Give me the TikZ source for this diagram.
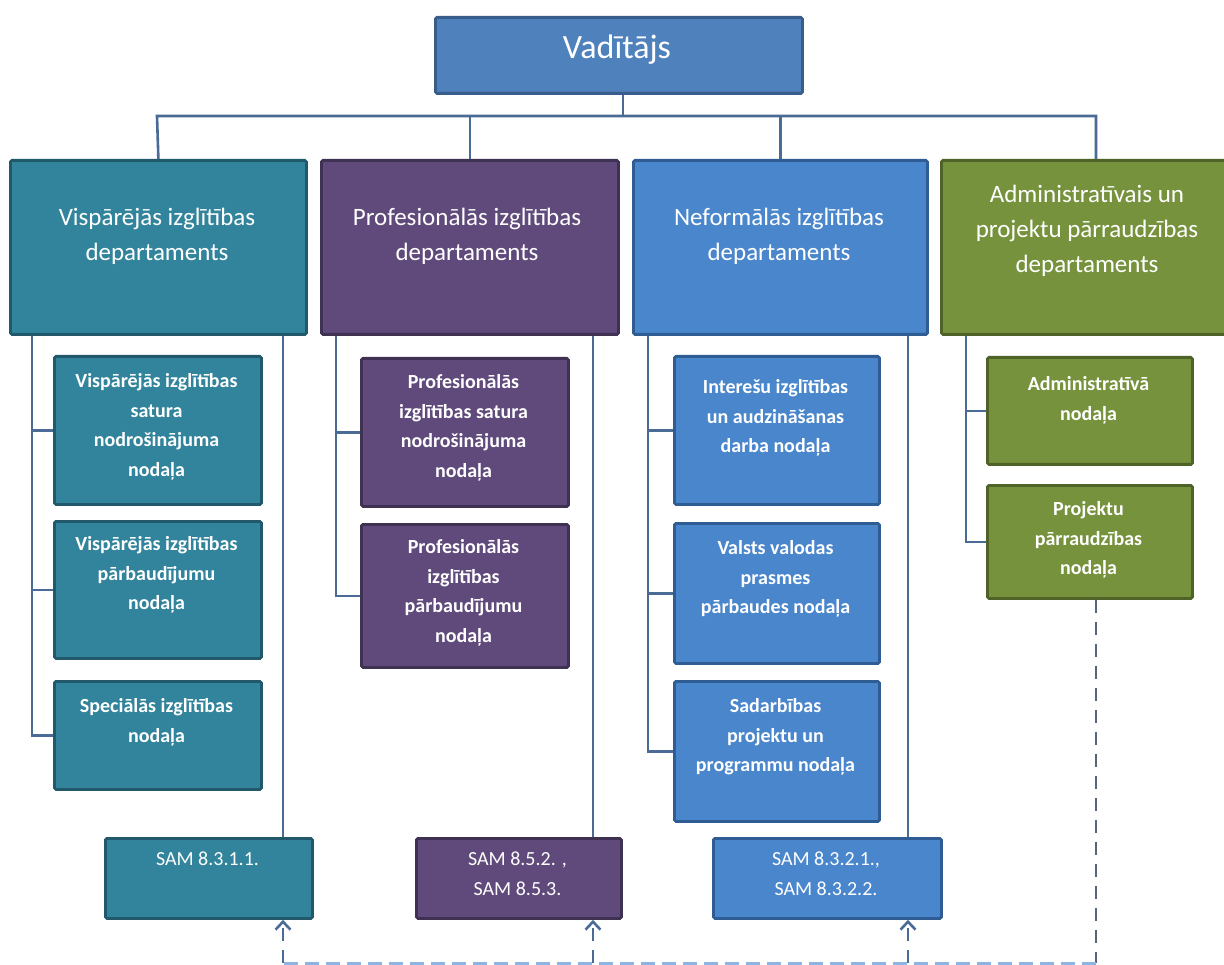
\documentclass[tikz,border=0pt]{standalone}
\usepackage{fontspec}
\setmainfont{Carlito}
\usetikzlibrary{arrows.meta}
\definecolor{cTitle}{HTML}{4F81BD}
\definecolor{cTitleD}{HTML}{385D8A}
\definecolor{cTeal}{HTML}{31849B}
\definecolor{cTealD}{HTML}{21596A}
\definecolor{cPurp}{HTML}{604A7B}
\definecolor{cPurpD}{HTML}{3F3151}
\definecolor{cBlue}{HTML}{4A86CC}
\definecolor{cBlueD}{HTML}{2F5C93}
\definecolor{cGreen}{HTML}{76923C}
\definecolor{cGreenD}{HTML}{4F6228}
\definecolor{cLine}{HTML}{4A6B95}
\definecolor{cDashH}{HTML}{8EB4E3}
\definecolor{cDashV}{HTML}{55657A}
\tikzset{
  box/.style={draw, line width=2.8pt, rounded corners=1.5pt, anchor=north west, inner sep=0pt},
  dtext/.style={text=white, align=center, inner sep=0pt, anchor=north, font=\fontsize{25}{35}\selectfont},
  stext/.style={text=white, align=center, inner sep=0pt, anchor=north, font=\fontsize{20}{29.5}\selectfont\bfseries},
  samtext/.style={text=white, align=center, inner sep=0pt, anchor=north, font=\fontsize{20}{30}\selectfont},
  conn/.style={draw=cLine, line width=2.6pt},
  dashh/.style={draw=cDashH, line width=3pt, dash pattern=on 14pt off 7pt},
  dashv/.style={draw=cDashV, line width=2.4pt, dash pattern=on 13pt off 9pt},
  dasharr/.style={draw=cLine, line width=2.6pt, dash pattern=on 13pt off 9pt, -{Straight Barb[length=8pt,width=15pt,line width=2.6pt]}}
}
\begin{document}
\begin{tikzpicture}[x=1pt,y=-1pt]
\clip (0,0) rectangle (1224,965);
\fill[white] (0,0) rectangle (1224,965);

% title
\node[box, fill=cTitle, draw=cTitleD, minimum width=367pt, minimum height=76pt] (top) at (434,16) {};
\node[text=white, inner sep=0pt, anchor=base, font=\fontsize{34}{38}\selectfont] (topt) at (617,59) {Vadītājs};

% departments
\node[box, fill=cTeal, draw=cTealD, minimum width=296pt, minimum height=174pt] (d1) at (9,159) {};
\node[box, fill=cPurp, draw=cPurpD, minimum width=297pt, minimum height=174pt] (d2) at (320,159) {};
\node[box, fill=cBlue, draw=cBlueD, minimum width=294pt, minimum height=174pt] (d3) at (632,159) {};
\node[box, fill=cGreen, draw=cGreenD, minimum width=312pt, minimum height=174pt] (d4) at (940,159) {};
\node[dtext] (d1t) at (157,201) {\strut Vispārējās izglītības\\departaments};
\node[dtext] (d2t) at (467,201) {\strut Profesionālās izglītības\\departaments};
\node[dtext] (d3t) at (779,201) {\strut Neformālās izglītības\\departaments};
\node[dtext] (d4t) at (1087,178) {\strut Administratīvais un\\projektu pārraudzības\\departaments};

% top connectors
\coordinate (topc) at (623,116);
\coordinate (h1) at (157,116);
\coordinate (h4) at (1096,116);
\draw[conn] (top.south -| topc) -- (topc);
\draw[conn] (d1.north) -- (h1) -- (h4) -- (h4 |- d4.north);
\draw[conn] (d2.north) -- (d2.north |- h1);
\draw[conn] (d3.north) -- (d3.north |- h1);

% column 1
\node[box, fill=cTeal, draw=cTealD, minimum width=207pt, minimum height=148pt] (c1a) at (53,355) {};
\node[box, fill=cTeal, draw=cTealD, minimum width=207pt, minimum height=137pt] (c1b) at (53,520) {};
\node[box, fill=cTeal, draw=cTealD, minimum width=207pt, minimum height=108pt] (c1c) at (53,680) {};
\node[stext] (c1at) at (156.5,367) {\strut Vispārējās izglītības\\satura\\nodrošinājuma\\nodaļa};
\node[stext] (c1bt) at (156.5,530) {\strut Vispārējās izglītības\\pārbaudījumu\\nodaļa};
\node[stext] (c1ct) at (156.5,692) {\strut Speciālās izglītības\\nodaļa};

% column 2
\node[box, fill=cPurp, draw=cPurpD, minimum width=207pt, minimum height=148pt] (c2a) at (360,357) {};
\node[box, fill=cPurp, draw=cPurpD, minimum width=207pt, minimum height=143pt] (c2b) at (360,523) {};
\node[stext] (c2at) at (463.5,368) {\strut Profesionālās\\izglītības satura\\nodrošinājuma\\nodaļa};
\node[stext] (c2bt) at (463.5,533) {\strut Profesionālās\\izglītības\\pārbaudījumu\\nodaļa};

% column 3
\node[box, fill=cBlue, draw=cBlueD, minimum width=205pt, minimum height=148pt] (c3a) at (673,355) {};
\node[box, fill=cBlue, draw=cBlueD, minimum width=205pt, minimum height=140pt] (c3b) at (673,522) {};
\node[box, fill=cBlue, draw=cBlueD, minimum width=205pt, minimum height=140pt] (c3c) at (673,680) {};
\node[stext] (c3at) at (775.5,373) {\strut Interešu izglītības\\un audzināšanas\\darba nodaļa};
\node[stext] (c3bt) at (775.5,534) {\strut Valsts valodas\\prasmes\\pārbaudes nodaļa};
\node[stext] (c3ct) at (775.5,692) {\strut Sadarbības\\projektu un\\programmu nodaļa};

% column 4
\node[box, fill=cGreen, draw=cGreenD, minimum width=205pt, minimum height=107pt] (c4a) at (986,356) {};
\node[box, fill=cGreen, draw=cGreenD, minimum width=205pt, minimum height=113pt] (c4b) at (986,484) {};
\node[stext] (c4at) at (1088.5,370) {\strut Administratīvā\\nodaļa};
\node[stext] (c4bt) at (1088.5,495) {\strut Projektu\\pārraudzības\\nodaļa};

% SAM boxes
\node[box, fill=cTeal, draw=cTealD, minimum width=207pt, minimum height=80pt] (s1) at (104,837) {};
\node[box, fill=cPurp, draw=cPurpD, minimum width=205pt, minimum height=80pt] (s2) at (415,837) {};
\node[box, fill=cBlue, draw=cBlueD, minimum width=228pt, minimum height=80pt] (s3) at (712,837) {};
\node[samtext] (s1t) at (207.5,844) {\strut SAM 8.3.1.1.};
\node[samtext] (s2t) at (517.5,844) {\strut SAM 8.5.2. ,\\SAM 8.5.3.};
\node[samtext] (s3t) at (826,844) {\strut SAM 8.3.2.1.,\\SAM 8.3.2.2.};

% left brackets
\coordinate (x1l) at (32,0);
\coordinate (x2l) at (336,0);
\coordinate (x3l) at (648,0);
\coordinate (x4l) at (966,0);
\draw[conn] (x1l |- d1.south) |- (c1c.west);
\draw[conn] (x1l |- c1a.west) -- (c1a.west);
\draw[conn] (x1l |- c1b.west) -- (c1b.west);
\draw[conn] (x2l |- d2.south) |- (c2b.west);
\draw[conn] (x2l |- c2a.west) -- (c2a.west);
\draw[conn] (x3l |- d3.south) |- (c3c.west);
\draw[conn] (x3l |- c3a.west) -- (c3a.west);
\draw[conn] (x3l |- c3b.west) -- (c3b.west);
\draw[conn] (x4l |- d4.south) |- (c4b.west);
\draw[conn] (x4l |- c4a.west) -- (c4a.west);

% right lines to SAM boxes
\coordinate (x1r) at (283,0);
\coordinate (x2r) at (593,0);
\coordinate (x3r) at (908,0);
\draw[conn] (x1r |- d1.south) -- (x1r |- s1.north);
\draw[conn] (x2r |- d2.south) -- (x2r |- s2.north);
\draw[conn] (x3r |- d3.south) -- (x3r |- s3.north);

% dashed feedback
\coordinate (b1) at (283,963);
\coordinate (b2) at (593,963);
\coordinate (b3) at (908,963);
\coordinate (b4) at (1096,963);
\draw[dashv] (c4b.south -| b4) -- (b4);
\draw[dashh] (b4) -- (b1);
\draw[dasharr] (b1) -- (b1 |- s1.south);
\draw[dasharr] (b2) -- (b2 |- s2.south);
\draw[dasharr] (b3) -- (b3 |- s3.south);
\end{tikzpicture}
\end{document}
